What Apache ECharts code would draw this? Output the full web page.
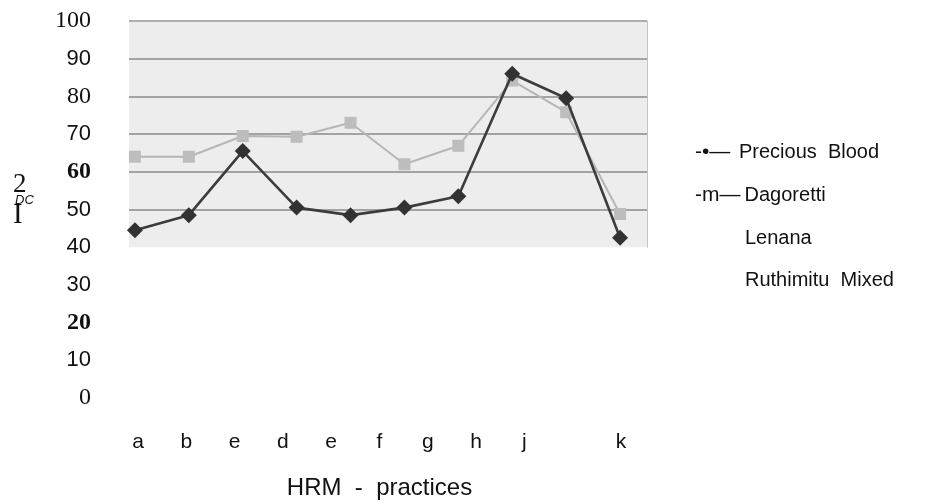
<!DOCTYPE html>
<html>
<head>
<meta charset="utf-8">
<title>HRM practices</title>
<script src="https://cdn.jsdelivr.net/npm/echarts@6/dist/echarts.min.js"></script>
<style>
  html, body { margin: 0; padding: 0; background: #ffffff; }
  #chart { width: 927px; height: 504px; }
</style>
</head>
<body>
<div id="chart"></div>
<script>
// Practice scores per school
const practices = ['a', 'b', 'c', 'd', 'e', 'f', 'g', 'h', 'i', 'j'];
const preciousBlood = [44.5, 48.5, 65.5, 50.5, 48.5, 50.5, 53.5, 86, 79.5, 42.5];
const dagoretti = [64, 64, 69.5, 69.3, 73, 62, 66.9, 84.2, 75.8, 48.8];
const lenana = [];
const ruthimituMixed = [];

// Axis tick labels as printed
const categoryLabels = ['a', 'b', 'e', 'd', 'e', 'f', 'g', 'h', 'j', '', 'k'];
const seriesNames = ['Precious Blood', 'Dagoretti', 'Lenana', 'Ruthimitu Mixed'];

const SANS = "'Liberation Sans', Arial, sans-serif";
const SERIF = "'Liberation Serif', 'Times New Roman', serif";

// typeface used for each value label on the left scale
function faceOf(v) {
  if (v === 60 || v === 20) return 'serifB';
  if (v === 100 || v === 80 || v === 0) return 'serif';
  return 'sans';
}

const legendText = {
  'Precious Blood': '{sym|-\u2022\u2014}Precious  Blood',
  'Dagoretti': '{sym|-m\u2014} Dagoretti',
  'Lenana': '{pad|}Lenana',
  'Ruthimitu Mixed': '{pad|}Ruthimitu  Mixed'
};

const chart = echarts.init(document.getElementById('chart'), null, { renderer: 'canvas' });

const option = {
  animation: false,
  backgroundColor: '#ffffff',
  grid: [
    // scale labels 0..100
    { left: 100, top: 21, width: 10, height: 377, show: false },
    // shaded plotting panel 40..100
    { left: 129, top: 21, width: 518, height: 226.2, show: true,
      backgroundColor: '#ededed', borderWidth: 0 },
    // category labels and axis title
    { left: 138, top: 400, width: 483, height: 25, show: false }
  ],
  xAxis: [
    { gridIndex: 0, type: 'value', min: 0, max: 1, show: false },
    { gridIndex: 1, type: 'value', min: -0.11, max: 9.5, show: false },
    {
      gridIndex: 2, type: 'category', data: categoryLabels, boundaryGap: false,
      axisLine: { show: false }, axisTick: { show: false },
      axisLabel: { margin: 7, fontSize: 21, fontFamily: SANS, color: '#111', interval: 0 },
      name: 'HRM  -  practices', nameLocation: 'middle', nameGap: 51,
      nameTextStyle: { fontSize: 24, fontFamily: SANS, color: '#111' }
    }
  ],
  yAxis: [
    {
      gridIndex: 0, type: 'value', min: 0, max: 100, interval: 10,
      axisLine: { show: false }, axisTick: { show: false }, splitLine: { show: false },
      axisLabel: {
        margin: 9, color: '#111',
        formatter: v => '{' + faceOf(v) + '|' + v + '}',
        rich: {
          sans: { fontFamily: SANS, fontSize: 22, color: '#111' },
          serif: { fontFamily: SERIF, fontSize: 24, color: '#111' },
          serifB: { fontFamily: SERIF, fontSize: 24, fontWeight: 'bold', color: '#111' }
        }
      },
      name: '{n2|2}\n{dc|DC}\n{one|I}',
      nameLocation: 'middle', nameRotate: 0, nameGap: 87,
      nameTextStyle: {
        align: 'left', verticalAlign: 'middle', padding: [0, 0, 18, 0],
        rich: {
          n2: { fontFamily: SERIF, fontSize: 27, lineHeight: 19, color: '#111' },
          dc: { fontFamily: SANS, fontSize: 13, fontStyle: 'italic', lineHeight: 11, color: '#111', padding: [0, 0, 0, 2] },
          one: { fontFamily: SERIF, fontSize: 29, lineHeight: 20, color: '#111' }
        }
      }
    },
    {
      gridIndex: 1, type: 'value', min: 40, max: 100, interval: 10, position: 'right',
      axisLine: { show: true, onZero: false, lineStyle: { color: '#c4c4c4', width: 1 } },
      axisTick: { show: false }, axisLabel: { show: false },
      splitLine: {
        show: true,
        lineStyle: {
          color: ['rgba(0,0,0,0)', '#8a8a8a', '#8a8a8a', '#8a8a8a', '#8a8a8a', '#8a8a8a', '#969696'],
          width: 1.5
        }
      }
    },
    { gridIndex: 2, type: 'value', min: 0, max: 1, show: false }
  ],
  legend: {
    orient: 'vertical', left: 685, top: 137,
    icon: 'none', itemWidth: 0, itemHeight: 20, itemGap: 22,
    selectedMode: false,
    data: seriesNames,
    formatter: name => legendText[name],
    textStyle: {
      fontFamily: SANS, fontSize: 20, color: '#111',
      rich: {
        sym: { width: 44, fontFamily: SANS, fontSize: 21, color: '#111' },
        pad: { width: 50 }
      }
    }
  },
  series: [
    {
      name: seriesNames[0], type: 'line', xAxisIndex: 1, yAxisIndex: 1,
      data: preciousBlood.map((v, i) => [i, v]),
      symbol: 'diamond', symbolSize: 16,
      lineStyle: { color: '#3c3c3c', width: 2.6 },
      itemStyle: { color: '#323232' },
      z: 4
    },
    {
      name: seriesNames[1], type: 'line', xAxisIndex: 1, yAxisIndex: 1,
      data: dagoretti.map((v, i) => [i, v]),
      symbol: 'rect', symbolSize: 12,
      lineStyle: { color: '#b6b6b6', width: 2 },
      itemStyle: { color: '#bdbdbd' },
      z: 3
    },
    {
      name: seriesNames[2], type: 'line', xAxisIndex: 1, yAxisIndex: 1,
      data: lenana, symbol: 'none'
    },
    {
      name: seriesNames[3], type: 'line', xAxisIndex: 1, yAxisIndex: 1,
      data: ruthimituMixed, symbol: 'none'
    }
  ]
};

chart.setOption(option);
</script>
</body>
</html>
